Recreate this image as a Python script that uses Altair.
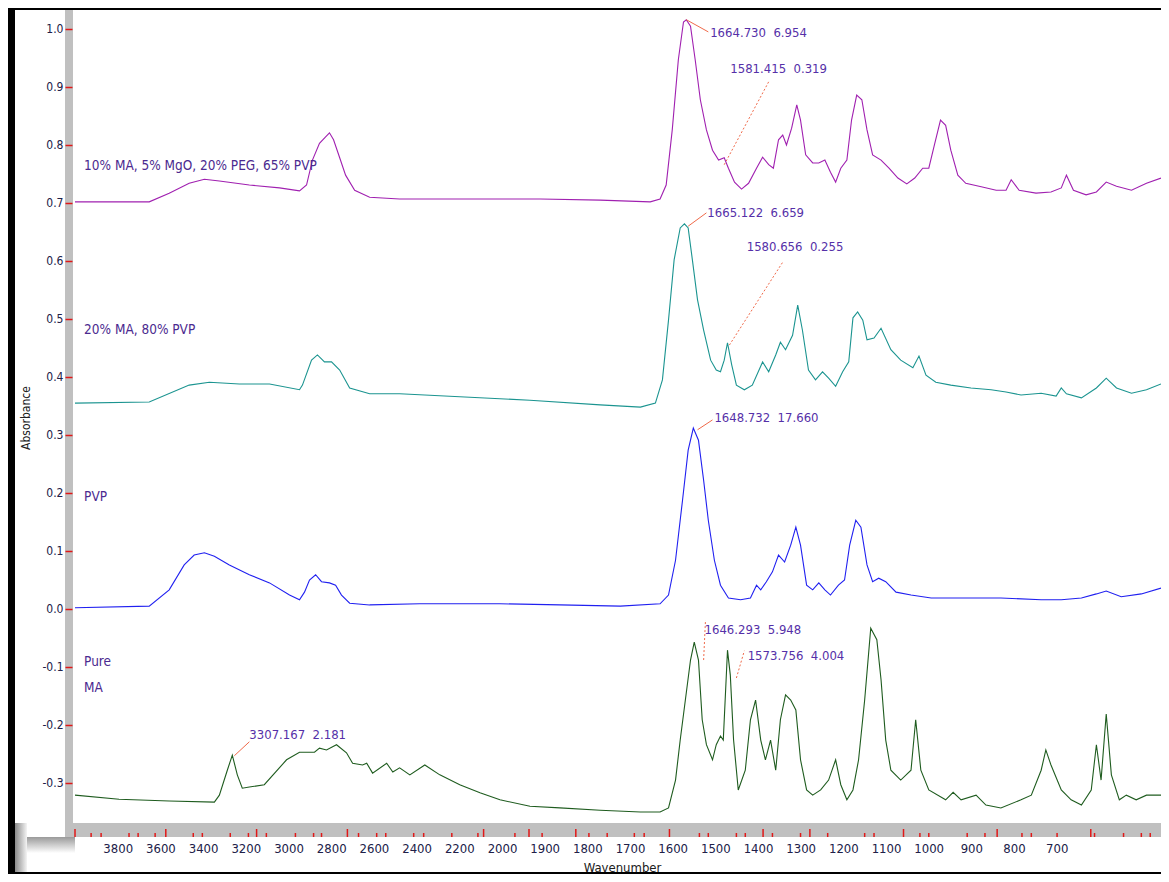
import altair as alt
import pandas as pd

FONT = "DejaVu Sans Condensed, Liberation Sans Narrow, Arial Narrow, Liberation Sans, sans-serif"

# ---------------- spectra (wavenumber, absorbance) ----------------
s1_name = "10% MA, 5% MgO, 20% PEG, 65% PVP"
s1_wn = [4000, 3673, 3585, 3497, 3430, 3364, 3232, 3099, 3011, 2980,
         2954, 2923, 2896, 2879, 2861, 2834, 2808, 2768, 2702, 2570,
         2305, 1976, 1848, 1741, 1720, 1707, 1694, 1681, 1670, 1664,
         1655, 1645, 1634, 1621, 1608, 1595, 1583, 1574, 1561, 1546,
         1531, 1514, 1501, 1488, 1478, 1467, 1458, 1450, 1439, 1428,
         1420, 1409, 1394, 1381, 1368, 1356, 1345, 1334, 1321, 1311,
         1300, 1289, 1278, 1266, 1248, 1231, 1212, 1193, 1176, 1159,
         1146, 1134, 1121, 1110, 1099, 1084, 1067, 1034, 1002, 981,
         970, 953, 917, 885, 863, 852, 837, 810, 788, 767,
         745, 713, 681, 650]
s1_ab = [0.702, 0.702, 0.717, 0.734, 0.741, 0.738, 0.731, 0.726, 0.721, 0.731,
         0.774, 0.803, 0.814, 0.821, 0.809, 0.778, 0.748, 0.722, 0.710, 0.707,
         0.707, 0.707, 0.705, 0.702, 0.707, 0.731, 0.826, 0.947, 1.012, 1.016,
         1.005, 0.947, 0.878, 0.826, 0.791, 0.774, 0.778, 0.760, 0.736, 0.724,
         0.734, 0.760, 0.779, 0.766, 0.760, 0.809, 0.817, 0.800, 0.829, 0.869,
         0.843, 0.783, 0.769, 0.769, 0.774, 0.753, 0.736, 0.760, 0.774, 0.843,
         0.886, 0.878, 0.826, 0.783, 0.774, 0.760, 0.743, 0.733, 0.743, 0.760,
         0.760, 0.800, 0.843, 0.834, 0.791, 0.748, 0.734, 0.728, 0.722, 0.722,
         0.740, 0.722, 0.717, 0.719, 0.726, 0.748, 0.722, 0.714, 0.719, 0.736,
         0.729, 0.722, 0.734, 0.743]

s2_name = "20% MA, 80% PVP"
s2_wn = [4000, 3673, 3497, 3408, 3276, 3143, 3011, 2998, 2958, 2932,
         2901, 2870, 2834, 2790, 2702, 2570, 2305, 1998, 1848, 1762,
         1730, 1715, 1702, 1690, 1677, 1668, 1660, 1651, 1640, 1627,
         1612, 1600, 1591, 1583, 1576, 1567, 1557, 1540, 1523, 1501,
         1488, 1473, 1463, 1452, 1437, 1426, 1416, 1403, 1388, 1373,
         1360, 1345, 1330, 1317, 1308, 1298, 1287, 1278, 1263, 1248,
         1227, 1206, 1180, 1167, 1152, 1131, 1099, 1056, 1013, 981,
         949, 906, 874, 863, 852, 820, 788, 767, 745, 713,
         681, 650]
s2_ab = [0.355, 0.357, 0.386, 0.391, 0.388, 0.388, 0.378, 0.386, 0.429, 0.438,
         0.426, 0.426, 0.412, 0.381, 0.371, 0.371, 0.366, 0.360, 0.352, 0.348,
         0.355, 0.395, 0.498, 0.602, 0.657, 0.664, 0.657, 0.602, 0.533, 0.481,
         0.429, 0.412, 0.409, 0.429, 0.459, 0.421, 0.386, 0.378, 0.386, 0.426,
         0.409, 0.438, 0.460, 0.447, 0.472, 0.524, 0.481, 0.412, 0.395, 0.409,
         0.398, 0.384, 0.409, 0.426, 0.502, 0.512, 0.498, 0.464, 0.467, 0.484,
         0.447, 0.429, 0.416, 0.436, 0.403, 0.391, 0.386, 0.381, 0.378, 0.374,
         0.369, 0.372, 0.367, 0.381, 0.371, 0.364, 0.381, 0.398, 0.381, 0.372,
         0.378, 0.388]

s3_name = "PVP"
s3_wn = [4000, 3673, 3585, 3519, 3475, 3430, 3386, 3320, 3232, 3143,
         3055, 3011, 2989, 2967, 2940, 2914, 2879, 2852, 2826, 2790,
         2702, 2481, 2128, 1934, 1805, 1720, 1702, 1687, 1672, 1660,
         1649, 1638, 1627, 1617, 1604, 1591, 1574, 1548, 1527, 1514,
         1505, 1493, 1480, 1467, 1454, 1441, 1430, 1420, 1407, 1394,
         1381, 1368, 1356, 1339, 1326, 1315, 1302, 1291, 1278, 1266,
         1253, 1238, 1216, 1184, 1141, 1077, 992, 906, 863, 820,
         788, 767, 735, 692, 650]
s3_ab = [0.002, 0.005, 0.033, 0.076, 0.093, 0.097, 0.091, 0.076, 0.059, 0.045,
         0.024, 0.016, 0.029, 0.050, 0.059, 0.047, 0.045, 0.041, 0.024, 0.010,
         0.007, 0.009, 0.009, 0.007, 0.005, 0.009, 0.024, 0.084, 0.188, 0.274,
         0.312, 0.291, 0.222, 0.153, 0.084, 0.041, 0.019, 0.016, 0.019, 0.041,
         0.033, 0.047, 0.064, 0.093, 0.081, 0.110, 0.141, 0.110, 0.041, 0.033,
         0.045, 0.033, 0.024, 0.041, 0.050, 0.110, 0.153, 0.141, 0.076, 0.047,
         0.053, 0.047, 0.029, 0.024, 0.019, 0.019, 0.019, 0.016, 0.016, 0.019,
         0.026, 0.031, 0.021, 0.026, 0.036]

s4_name = "Pure MA"
s4_wn = [4000, 3806, 3585, 3386, 3364, 3329, 3307, 3285, 3263, 3232,
         3166, 3068, 3011, 2945, 2923, 2892, 2848, 2804, 2777, 2733,
         2715, 2689, 2627, 2600, 2570, 2525, 2459, 2393, 2305, 2216,
         2128, 1998, 1934, 1848, 1762, 1720, 1702, 1687, 1677, 1666,
         1655, 1647, 1638, 1630, 1621, 1608, 1600, 1591, 1585, 1576,
         1570, 1563, 1553, 1538, 1527, 1516, 1505, 1495, 1484, 1473,
         1463, 1452, 1441, 1430, 1420, 1407, 1394, 1377, 1360, 1345,
         1334, 1321, 1308, 1296, 1283, 1270, 1257, 1248, 1238, 1227,
         1206, 1184, 1174, 1163, 1146, 1110, 1094, 1077, 1045, 1024,
         992, 949, 927, 906, 896, 885, 863, 842, 820, 799,
         788, 778, 767, 756, 739, 724, 703, 681, 650]
s4_ab = [-0.321, -0.328, -0.331, -0.333, -0.321, -0.278, -0.252, -0.286, -0.309, -0.307,
         -0.303, -0.260, -0.247, -0.247, -0.240, -0.243, -0.234, -0.248, -0.266, -0.269,
         -0.266, -0.283, -0.266, -0.281, -0.274, -0.286, -0.269, -0.286, -0.303, -0.317,
         -0.329, -0.340, -0.343, -0.347, -0.350, -0.350, -0.343, -0.295, -0.226, -0.157,
         -0.088, -0.057, -0.088, -0.191, -0.234, -0.260, -0.234, -0.219, -0.226, -0.071,
         -0.114, -0.226, -0.312, -0.278, -0.191, -0.157, -0.226, -0.260, -0.226, -0.278,
         -0.191, -0.148, -0.157, -0.174, -0.260, -0.312, -0.321, -0.312, -0.295, -0.260,
         -0.303, -0.329, -0.312, -0.260, -0.157, -0.033, -0.053, -0.122, -0.226, -0.278,
         -0.295, -0.278, -0.191, -0.278, -0.312, -0.329, -0.316, -0.329, -0.321, -0.338,
         -0.343, -0.329, -0.321, -0.278, -0.243, -0.269, -0.312, -0.329, -0.338, -0.312,
         -0.234, -0.295, -0.181, -0.286, -0.329, -0.321, -0.329, -0.321, -0.321]

series_names = [s1_name, s2_name, s3_name, s4_name]
series_colors = ["#A020B0", "#1B9490", "#2020F0", "#1F5C1F"]

# series labels written on the plot
lab_text = ["10% MA, 5% MgO, 20% PEG, 65% PVP", "20% MA, 80% PVP", "PVP", "Pure", "MA"]
lab_wn = [3960, 3960, 3960, 3960, 3960]
lab_ab = [0.764, 0.481, 0.193, -0.091, -0.136]

# peak annotations
ann_text = ["1664.730\u00a0 6.954", "1581.415\u00a0 0.319", "1665.122\u00a0 6.659", "1580.656\u00a0 0.255",
            "1648.732\u00a0 17.660", "1646.293\u00a0 5.948", "1573.756\u00a0 4.004", "3307.167\u00a0 2.181"]
ann_wn = [1613, 1570, 1619, 1535, 1604, 1625, 1533, 3232]
ann_ab = [0.993, 0.931, 0.683, 0.624, 0.329, -0.036, -0.081, -0.217]

# leader lines: peak point -> label point
lead_wn1 = [1664, 1660, 1640, 3298]
lead_ab1 = [1.016, 0.660, 0.309, -0.253]
lead_wn2 = [1617, 1621, 1608, 3232]
lead_ab2 = [0.995, 0.683, 0.326, -0.229]
dot_wn1 = [1583, 1572, 1627, 1557]
dot_ab1 = [0.766, 0.455, -0.088, -0.119]
dot_wn2 = [1488, 1458, 1623, 1540]
dot_ab2 = [0.909, 0.598, -0.019, -0.072]

# axis ticks / labels
y_vals = [-0.3, -0.2, -0.1, 0.0, 0.1, 0.2, 0.3, 0.4, 0.5, 0.6, 0.7, 0.8, 0.9, 1.0]
x_label_vals = [3800, 3600, 3400, 3200, 3000, 2800, 2600, 2400, 2200, 2000,
                1900, 1800, 1700, 1600, 1500, 1400, 1300, 1200, 1100, 1000, 900, 800, 700]
major_ticks = [4000, 3600, 3200, 2800, 2200, 2000, 1900, 1700, 1500, 1400, 1200, 1000, 800]
minor_ticks = [3929, 3885, 3762, 3722, 3647, 3479, 3439, 3316, 3236, 3157, 3029, 2949,
               2914, 2751, 2671, 2631, 2508, 2464, 2340, 2225, 2062, 1972, 1872, 1833,
               1775, 1754, 1636, 1617, 1557, 1538, 1480, 1420, 1362, 1283, 1263, 1165,
               1146, 1064, 1026, 947, 927, 872, 792, 730, 692, 673]

# ---------------- layout ----------------
W, H = 1086, 811
x_scale = alt.Scale(domain=[4000, 2000, 650], range=[0, 454, W], nice=False, zero=False)
lab_scale = alt.Scale(domain=[4000, 2000, 650], range=[0, 427, 1003], nice=False, zero=False)
y_scale = alt.Scale(domain=[-0.369, 1.0293], nice=False, zero=False)

y_axis = alt.Axis(values=y_vals, labelExpr="replace(format(datum.value, '.1f'), '\u2212', '-')",
                  tickColor="#E01818", tickSize=7, tickWidth=1.5, domain=False, grid=False,
                  offset=3, labelPadding=2, labelFont=FONT, labelFontSize=12,
                  labelColor="#202048", title="Absorbance", titleFont=FONT, titleFontSize=12,
                  titleFontWeight="normal", titleColor="#202020", titlePadding=9, zindex=2)


def X(field):
    return alt.X(field, type="quantitative", scale=x_scale, axis=None)


def Y(field):
    return alt.Y(field, type="quantitative", scale=y_scale, axis=y_axis)


spec = pd.concat([
    pd.DataFrame({"wn": w, "ab": a, "series": n})
    for w, a, n in [(s1_wn, s1_ab, s1_name), (s2_wn, s2_ab, s2_name),
                    (s3_wn, s3_ab, s3_name), (s4_wn, s4_ab, s4_name)]
])

one = pd.DataFrame({"k": [0]})

white = alt.Chart(one).mark_rect(color="white").encode(
    x=alt.value(-60), x2=alt.value(W), y=alt.value(-2), y2=alt.value(860))
shadow_v = alt.Chart(one).mark_rect(
    color=alt.Gradient(gradient="linear", stops=[alt.GradientStop(color="#8a8a8a", offset=0),
                                                 alt.GradientStop(color="#f4f4f4", offset=1)],
                       x1=0, x2=1, y1=0, y2=0)).encode(
    x=alt.value(-60), x2=alt.value(-48), y=alt.value(H), y2=alt.value(860))
shadow_h = alt.Chart(one).mark_rect(
    color=alt.Gradient(gradient="linear", stops=[alt.GradientStop(color="#9a9a9a", offset=0),
                                                 alt.GradientStop(color="#ffffff", offset=1)],
                       x1=0, x2=0, y1=0, y2=1)).encode(
    x=alt.value(-48), x2=alt.value(0), y=alt.value(H + 14), y2=alt.value(H + 30))
yband = alt.Chart(one).mark_rect(color="#C0C0C0").encode(
    x=alt.value(-10), x2=alt.value(-2), y=alt.value(-2), y2=alt.value(H + 14))
xband = alt.Chart(one).mark_rect(color="#C0C0C0").encode(
    x=alt.value(-10), x2=alt.value(W), y=alt.value(H), y2=alt.value(H + 14))

maj = alt.Chart(pd.DataFrame({"wn": major_ticks})).mark_rule(color="#E01818", strokeWidth=1.5).encode(
    x=X("wn"), y=alt.value(H + 6), y2=alt.value(H + 14))
mnr = alt.Chart(pd.DataFrame({"wn": minor_ticks})).mark_rule(color="#E01818", strokeWidth=1.5).encode(
    x=X("wn"), y=alt.value(H + 10), y2=alt.value(H + 14))

lines = alt.Chart(spec).mark_line(strokeWidth=1.1).encode(
    x=X("wn"), y=Y("ab"),
    color=alt.Color("series:N", scale=alt.Scale(domain=series_names, range=series_colors), legend=None),
    order=alt.Order("wn:Q", sort="descending"))

leads = alt.Chart(pd.DataFrame({"w1": lead_wn1, "a1": lead_ab1, "w2": lead_wn2, "a2": lead_ab2})).mark_rule(
    color="#F06A4A", strokeWidth=1).encode(x=X("w1"), y=Y("a1"), x2="w2", y2="a2")
dots = alt.Chart(pd.DataFrame({"w1": dot_wn1, "a1": dot_ab1, "w2": dot_wn2, "a2": dot_ab2})).mark_rule(
    color="#F06A4A", strokeWidth=1, strokeDash=[2, 2]).encode(x=X("w1"), y=Y("a1"), x2="w2", y2="a2")

ann = alt.Chart(pd.DataFrame({"t": ann_text, "wn": ann_wn, "ab": ann_ab})).mark_text(
    align="left", baseline="middle", font=FONT, fontSize=13, color="#5530A8").encode(
    x=X("wn"), y=Y("ab"), text="t:N")

labs = alt.Chart(pd.DataFrame({"t": lab_text, "wn": lab_wn, "ab": lab_ab})).mark_text(
    align="left", baseline="middle", font=FONT, fontSize=13.5, color="#4B2A8F").encode(
    x=X("wn"), y=Y("ab"), text="t:N")

xlab = alt.Chart(pd.DataFrame({"lab": x_label_vals})).mark_point(opacity=0).encode(
    x=alt.X("lab:Q", scale=lab_scale,
            axis=alt.Axis(values=x_label_vals, format="d", orient="bottom", ticks=False, domain=False,
                          grid=False, offset=14, labelPadding=5, labelFont=FONT, labelFontSize=13,
                          labelColor="#202048", labelFlush=False, labelOverlap=False,
                          title="Wavenumber", titleFont=FONT, titleFontSize=13,
                          titleFontWeight="normal", titleColor="#202020",
                          titleX=547, titleY=24, titleAlign="center", titleBaseline="top",
                          zindex=2)))

chart = alt.layer(white, shadow_v, shadow_h, yband, xband, maj, mnr, lines, leads, dots, ann, labs,
                  xlab).resolve_scale(x="independent").properties(
    width=W, height=H,
    padding={"left": 67, "top": 4, "right": 0, "bottom": 51},
    autosize=alt.AutoSizeParams(type="none"),
).configure(background="black").configure_view(strokeWidth=0)

chart.save("out.html", embed_options={"renderer": "svg", "actions": False})
